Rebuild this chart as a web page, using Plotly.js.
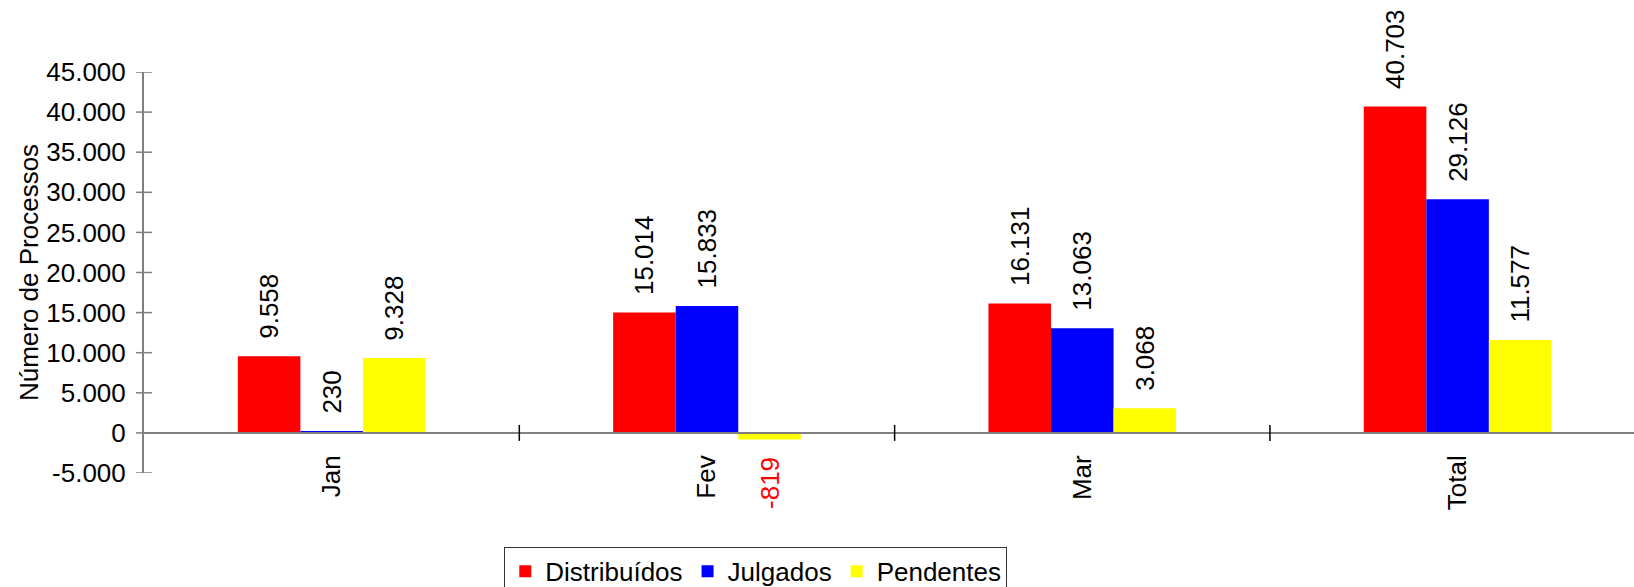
<!DOCTYPE html>
<html>
<head>
<meta charset="utf-8">
<script src="https://cdn.plot.ly/plotly-3.0.1.min.js"></script>
<style>html,body{margin:0;padding:0;background:#fff;}#chart{width:1634px;height:587px;}</style>
</head>
<body>
<div id="chart"></div>
<script>
const categories = ["Jan", "Fev", "Mar", "Total"];
const distribuidos = [9558, 15014, 16131, 40703];
const julgados = [230, 15833, 13063, 29126];
const pendentes = [9328, -819, 3068, 11577];
const yTickVals = [-5000, 0, 5000, 10000, 15000, 20000, 25000, 30000, 35000, 40000, 45000];
const yTickLabels = ["-5.000", "0", "5.000", "10.000", "15.000", "20.000", "25.000", "30.000", "35.000", "40.000", "45.000"];

const FONT = "Liberation Sans, Arial, Helvetica, sans-serif";
const FS = 26;

function fmt(v) {
  const s = String(Math.abs(Math.round(v)));
  const withDots = s.replace(/\B(?=(\d{3})+(?!\d))/g, ".");
  return (v < 0 ? "-" : "") + withDots;
}
function labels(vals) {
  return vals.map(v => v < 0 ? fmt(v) + "\u00a0\u00a0" : "\u00a0\u00a0" + fmt(v));
}
function labelColors(vals) {
  return vals.map(v => v < 0 ? "#FF0000" : "#000000");
}

function barTrace(name, vals, color) {
  return {
    type: "bar",
    name: name,
    x: categories,
    y: vals,
    text: labels(vals),
    textposition: "outside",
    textangle: -90,
    constraintext: "none",
    cliponaxis: false,
    textfont: {family: FONT, size: FS, color: labelColors(vals)},
    marker: {color: color, line: {width: 0}},
    hoverinfo: "skip"
  };
}

const data = [
  barTrace("Distribuídos", distribuidos, "#FF0000"),
  barTrace("Julgados", julgados, "#0000FF"),
  barTrace("Pendentes", pendentes, "#FFFF00")
];

const yr = [-5000, 45000];
const xr = [-0.5, 3.47];
const zeroPos = (0 - yr[0]) / (yr[1] - yr[0]);
const TICK = 8;

// crossing tick marks (both sides of each axis line), derived from the tick arrays
const yTickShapes = yTickVals.map(v => ({
  type: "line", layer: "above",
  xref: "paper", xsizemode: "pixel", xanchor: 0, x0: -TICK, x1: TICK,
  yref: "y", y0: v, y1: v,
  line: {color: "#808080", width: 1.5}
}));
const xBoundaryShapes = categories.slice(1).map((c, i) => ({
  type: "line", layer: "above",
  xref: "x", x0: i + 0.5, x1: i + 0.5,
  yref: "y", ysizemode: "pixel", yanchor: 0, y0: -TICK, y1: TICK,
  line: {color: "#000000", width: 1.5}
}));

const layout = {
  width: 1634,
  height: 587,
  paper_bgcolor: "#ffffff",
  plot_bgcolor: "rgba(0,0,0,0)",
  separators: ",.",
  font: {family: FONT, size: FS, color: "#000000"},
  margin: {l: 144, r: 0, t: 72, b: 114, autoexpand: false},
  barmode: "group",
  bargap: 0.5,
  bargroupgap: 0,
  showlegend: true,
  legend: {
    orientation: "h",
    x: 0.2418, xanchor: "left",
    y: -0.184, yanchor: "top",
    bgcolor: "#ffffff",
    bordercolor: "#333333",
    borderwidth: 1,
    font: {family: FONT, size: FS, color: "#000000"},
    traceorder: "normal"
  },
  xaxis: {
    type: "category",
    categoryorder: "array",
    categoryarray: categories,
    range: xr,
    anchor: "free",
    position: zeroPos,
    showline: true,
    linecolor: "#808080",
    linewidth: 2,
    showgrid: false,
    zeroline: false,
    ticks: "",
    tickangle: -90,
    ticklabelstandoff: 11,
    tickfont: {family: FONT, size: FS, color: "#000000"},
    fixedrange: true
  },
  yaxis: {
    range: yr,
    tickmode: "array",
    tickvals: yTickVals,
    ticktext: yTickLabels,
    showline: true,
    linecolor: "#808080",
    linewidth: 2,
    showgrid: false,
    zeroline: false,
    ticks: "",
    ticklabelstandoff: 11,
    tickfont: {family: FONT, size: FS, color: "#000000"},
    title: {text: "Número de Processos", font: {family: FONT, size: FS, color: "#000000"}, standoff: 0},
    fixedrange: true
  },
  shapes: yTickShapes.concat(xBoundaryShapes)
};

Plotly.newPlot("chart", data, layout, {staticPlot: true, displayModeBar: false});
</script>
</body>
</html>
